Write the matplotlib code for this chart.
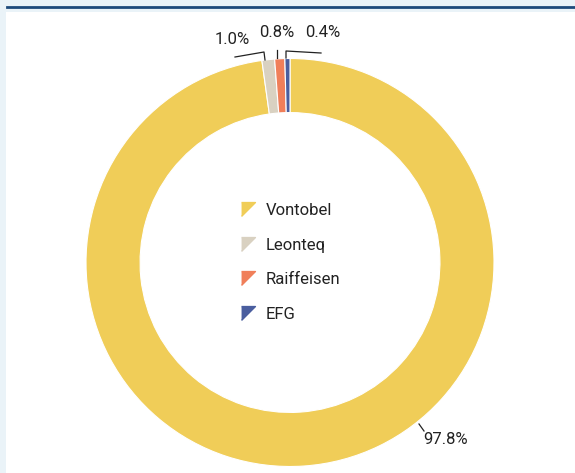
import matplotlib
matplotlib.use("Agg")
import matplotlib.pyplot as plt
from matplotlib.patches import Rectangle
from matplotlib.lines import Line2D
import numpy as np

plt.rcParams['font.family'] = ['Roboto', 'DejaVu Sans']

categories = ["Vontobel", "Leonteq", "Raiffeisen", "EFG"]
values = [97.8, 1.0, 0.8, 0.4]
labels = ["97.8%", "1.0%", "0.8%", "0.4%"]
colors = ["#f0cd58", "#d9d1c1", "#f07f5a", "#4a5e9f"]

W, H = 575, 473
fig = plt.figure(figsize=(W / 100, H / 100), dpi=100)
fig.patch.set_facecolor("#eaf3f8")

# white panel and top rule
fig.add_artist(Rectangle((6 / W, 0), 1, (H - 12) / H, transform=fig.transFigure,
                         facecolor="white", edgecolor="none", zorder=0))
fig.add_artist(Line2D([7 / W, 1], [1 - 6.8 / H, 1 - 6.8 / H], transform=fig.transFigure,
                      color="#1d4a7b", linewidth=2.0, zorder=1))

cx, cy, R = 290, 262.5, 204
ax = fig.add_axes([(cx - R) / W, (H - cy - R) / H, 2 * R / W, 2 * R / H])
ax.set_facecolor("none")
wedges, _ = ax.pie(values, colors=colors, startangle=90, counterclock=False,
                   radius=1.0, wedgeprops=dict(width=0.265, edgecolor="white", linewidth=0.8))
ax.set_xlim(-1, 1)
ax.set_ylim(-1, 1)
ax.set_aspect("equal")
ax.axis("off")

def pt(px, py):
    return ((px - cx) / R, (cy - py) / R)

# leader lines (layout geometry) and labels
leaders = {
    "1.0%": [pt(265, 60), pt(264, 52), pt(235, 57)],
    "0.8%": [pt(277, 58), pt(277, 50)],
    "0.4%": [pt(286, 58), pt(286, 51), pt(321, 53)],
    "97.8%": [pt(419, 424), pt(424, 431)],
}
label_pos = {
    "1.0%": pt(232, 40),
    "0.8%": pt(277, 33),
    "0.4%": pt(323, 33),
    "97.8%": pt(446, 440),
}
for lab in labels:
    xs, ys = zip(*leaders[lab])
    ax.plot(xs, ys, color="#222222", linewidth=0.9, clip_on=False)
    x, y = label_pos[lab]
    ax.text(x, y, lab, ha="center", va="center", fontsize=12, color="#222222")

tri = [(-1, 1), (1, 1), (-1, -1)]
handles = [Line2D([], [], linestyle="none", marker=tri, markersize=10,
                  markerfacecolor=c, markeredgecolor=c) for c in colors]
leg = ax.legend(handles, categories, loc="center", bbox_to_anchor=(0.5, 0.5),
                frameon=False, fontsize=12, labelspacing=1.17, handletextpad=0.6,
                handlelength=1.0)
for t in leg.get_texts():
    t.set_color("#222222")

fig.savefig("out.png", dpi=100, facecolor=fig.get_facecolor())
